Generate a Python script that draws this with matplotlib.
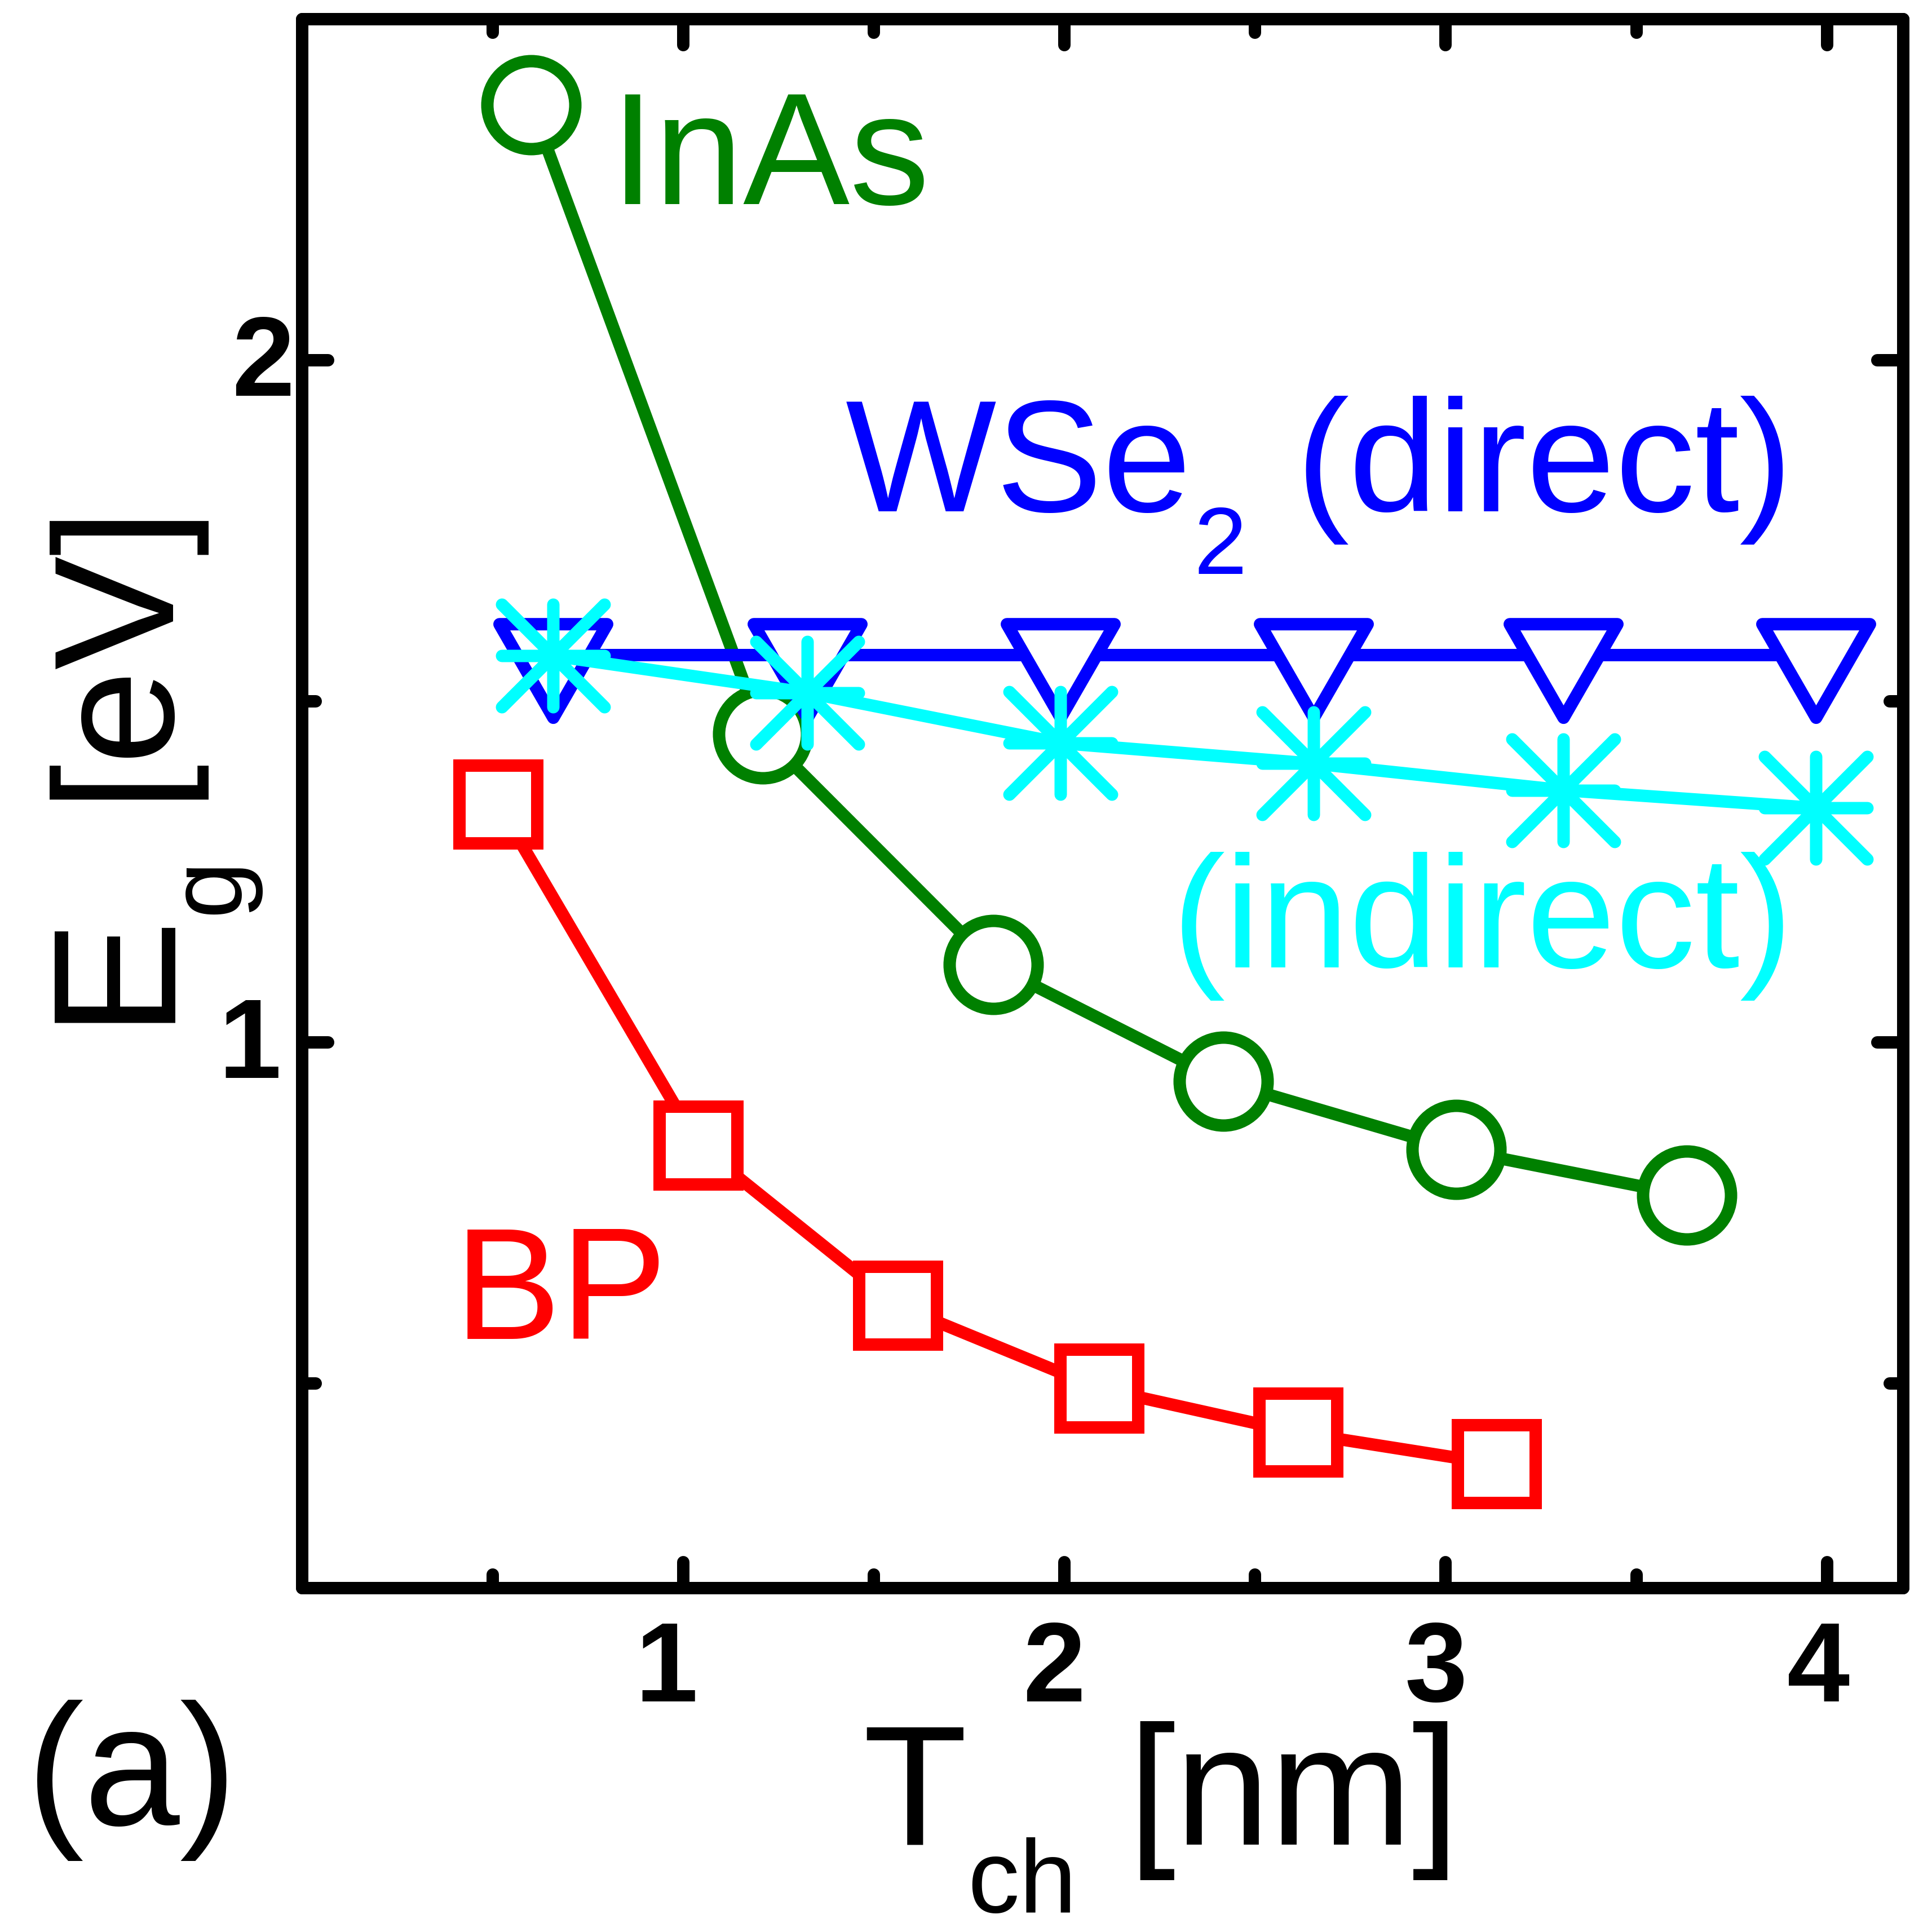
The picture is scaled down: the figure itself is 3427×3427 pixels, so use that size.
import numpy as np
import matplotlib
matplotlib.use('Agg')
import matplotlib.pyplot as plt
from matplotlib.path import Path
from matplotlib.markers import MarkerStyle
from matplotlib.transforms import ScaledTranslation

plt.rcParams['font.family'] = ['Liberation Sans', 'DejaVu Sans']

# ---- data ----
bp_t = [0.515, 1.040, 1.564, 2.091, 2.614, 3.134]
bp_eg = [1.349, 0.849, 0.614, 0.493, 0.428, 0.382]

inas_t = [0.601, 1.209, 1.813, 2.417, 3.027, 3.632]
inas_eg = [2.375, 1.452, 1.114, 0.943, 0.843, 0.776]

wse2_t = [0.659, 1.325, 1.990, 2.653, 3.309, 3.971]
wse2_direct = [1.568, 1.568, 1.568, 1.568, 1.568, 1.568]
wse2_indirect = [1.567, 1.513, 1.439, 1.409, 1.370, 1.344]

x_major = [1, 2, 3, 4]
x_minor = [0.5, 1.5, 2.5, 3.5]
y_major = [1, 2]
y_minor = [0.5, 1.5]

# ---- figure geometry ----
DPI = 200
SIZE = 3427
PT = 72.0 / DPI          # points per pixel
LW = 22 * PT             # line / spine width


def fx(px):
    return px / SIZE


def fy(py):
    return 1 - py / SIZE


def shift(px_x, px_y):
    # pixel offset (y up) as a transform
    return ScaledTranslation(px_x / DPI, px_y / DPI, fig.dpi_scale_trans)


fig = plt.figure(figsize=(SIZE / DPI, SIZE / DPI), dpi=DPI)
ax = fig.add_axes([fx(535.7), fy(2817.3), fx(3376) - fx(535.7), fy(34.4) - fy(2817.3)])

# MATLAB-like markers: triangle centred on its centroid, 8-arm asterisk
tri_path = Path([(-95.5, 55.3), (95.5, 55.3), (0, -110.7), (-95.5, 55.3)],
                [Path.MOVETO, Path.LINETO, Path.LINETO, Path.CLOSEPOLY])
tri_marker = MarkerStyle(tri_path, joinstyle='round')
star_path = Path([(-1, 0), (1, 0), (0, -1), (0, 1), (-1, -1), (1, 1), (-1, 1), (1, -1)],
                 [Path.MOVETO, Path.LINETO] * 4)
star_marker = MarkerStyle(star_path, fillstyle='none', capstyle='round', joinstyle='round')

ax.plot(bp_t, bp_eg, color='#ff0000', lw=LW, marker='s', ms=138 * PT,
        mfc='white', mec='#ff0000', mew=LW)
ax.plot(inas_t, inas_eg, color='#008000', lw=LW, marker='o', ms=156 * PT,
        mfc='white', mec='#008000', mew=LW)
ax.plot(wse2_t, wse2_direct, color='#0000ff', lw=LW, marker=tri_marker, ms=221.4 * PT,
        mfc='white', mec='#0000ff', mew=LW)
ax.plot(wse2_t, wse2_indirect, color='#00ffff', lw=LW, marker=star_marker, ms=182 * PT,
        mec='#00ffff', mew=LW, solid_capstyle='round')

ax.set_xlim(0, 4.2)
ax.set_ylim(0.2, 2.5)
ax.set_xticks(x_major)
ax.set_xticks(x_minor, minor=True)
ax.set_yticks(y_major)
ax.set_yticks(y_minor, minor=True)
ax.set_xticklabels([str(v) for v in x_major], fontsize=72, fontweight='bold')
ax.set_yticklabels([str(v) for v in y_major], fontsize=72, fontweight='bold')
ax.tick_params(which='both', direction='in', top=True, right=True, width=LW)
ax.tick_params(which='major', length=46 * PT)
ax.tick_params(which='minor', length=24 * PT)
ax.tick_params(axis='x', which='major', pad=52 * PT)
ax.tick_params(axis='y', which='major', pad=13 * PT)
for sp in ax.spines.values():
    sp.set_linewidth(LW)
    sp.set_capstyle('round')

# rounded tick ends, like the original
for axis in (ax.xaxis, ax.yaxis):
    for tick in axis.get_major_ticks() + axis.get_minor_ticks():
        for line in (tick.tick1line, tick.tick2line):
            line.set_marker(MarkerStyle(line.get_marker(), capstyle='round'))

# tick labels centred on advance width in the original -> small offsets
x_label_dx = [-30, -19, -17, -15]
for lab, off in zip(ax.get_xticklabels(), x_label_dx):
    lab.set_transform(lab.get_transform() + shift(off, -4))
y_label_dx = [-24, 0]
for lab, off in zip(ax.get_yticklabels(), y_label_dx):
    lab.set_transform(lab.get_transform() + shift(off, 10))


# ---- in-axes labels (placed at glyph origins, data coordinates) ----
def dx(px):
    return (px - 535.7) / 676.3


def dy(py):
    return 2 - (py - 639.3) / 1210.0


IN_FS = 102
ax.text(dx(1083), dy(361.7), 'InAs', color='#008000', fontsize=IN_FS, va='baseline')
ax.text(dx(1500), dy(906.6), 'WSe', color='#0000ff', fontsize=IN_FS, va='baseline')
ax.text(dx(2118), dy(1018), '2', color='#0000ff', fontsize=61, va='baseline')
ax.text(dx(2298), dy(906.6), '(direct)', color='#0000ff', fontsize=IN_FS, va='baseline')
ax.text(dx(2078), dy(1715.7), '(indirect)', color='#00ffff', fontsize=IN_FS, va='baseline')
ax.text(dx(806), dy(2375), 'BP', color='#ff0000', fontsize=IN_FS, va='baseline')

# ---- axis labels built from pieces so the subscripts sit as in the original ----
LAB_FS = 109
SUB_FS = 66
fig.text(fx(1530), fy(3271.6), 'T', fontsize=LAB_FS, va='baseline')
fig.text(fx(1716), fy(3392), 'ch', fontsize=SUB_FS, va='baseline')
fig.text(fx(2000), fy(3271.6), '[nm]', fontsize=LAB_FS, va='baseline')

fig.text(fx(286), fy(1814), 'E', fontsize=112, rotation=90,
         rotation_mode='anchor', ha='left', va='baseline')
fig.text(fx(421), fy(1622), 'g', fontsize=SUB_FS, rotation=90,
         rotation_mode='anchor', ha='left', va='baseline')
fig.text(fx(286), fy(1418), '[eV]', fontsize=LAB_FS, rotation=90,
         rotation_mode='anchor', ha='left', va='baseline')

fig.text(fx(47), fy(3237), '(a)', fontsize=110, va='baseline')

fig.savefig('out.png', dpi=DPI, facecolor='white')
